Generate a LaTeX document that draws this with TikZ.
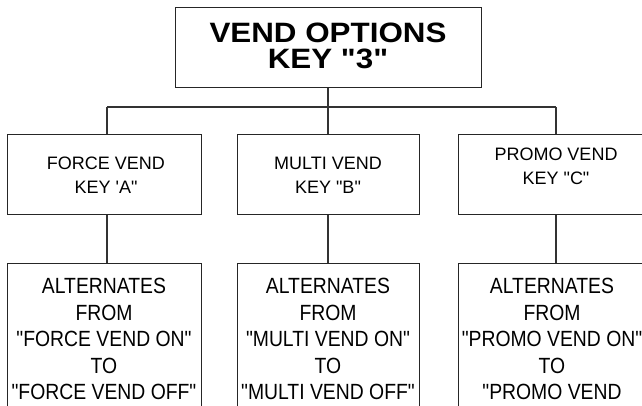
\documentclass[tikz,border=0pt]{standalone}
\usepackage{fontspec}
\newfontfamily\lsans{Liberation Sans}
\newfontfamily\lsanswide{Liberation Sans}[FakeStretch=1.12]
\newfontfamily\lsansnarrow{Liberation Sans}[FakeStretch=0.88]
\begin{document}
\begin{tikzpicture}[x=1pt,y=-1pt,
  box/.style={draw=black!85, line width=1pt, rectangle, inner sep=0pt},
  conn/.style={draw=black!80, line width=1.2pt},
  toptxt/.style={align=center, font=\lsanswide\fontsize{28}{26}\selectfont\bfseries, inner sep=0pt},
  midtxt/.style={align=center, font=\lsans\fontsize{18}{24}\selectfont, inner sep=0pt},
  bottxt/.style={align=center, font=\lsansnarrow\fontsize{22}{26.5}\selectfont, inner sep=0pt}]
\useasboundingbox (0,0) rectangle (642,406);
\clip (0,0) rectangle (642,406);
% boxes
\node[box, minimum width=306pt, minimum height=80pt] (top) at (328,48) {};
\node[box, minimum width=194pt, minimum height=79pt] (l1) at (104,174.5) {};
\node[box, minimum width=182pt, minimum height=79pt] (m1) at (328,174.5) {};
\node[box, minimum width=196pt, minimum height=79pt] (r1) at (556,174.5) {};
\node[box, minimum width=194pt, minimum height=170pt] (l2) at (104,348) {};
\node[box, minimum width=182pt, minimum height=170pt] (m2) at (328,348) {};
\node[box, minimum width=196pt, minimum height=170pt] (r2) at (556,348) {};
% texts
\node[toptxt] (ttop) at (328,46) {VEND OPTIONS\\KEY "3"};
\node[midtxt] (tl1) at (106,175) {FORCE VEND\\KEY 'A"};
\node[midtxt] (tm1) at (328,175) {MULTI VEND\\KEY "B"};
\node[midtxt] (tr1) at (556,166) {PROMO VEND\\KEY "C"};
\node[bottxt] (tl2) at (104,339) {ALTERNATES\\FROM\\"FORCE VEND ON"\\TO\\"FORCE VEND OFF"};
\node[bottxt] (tm2) at (328,339) {ALTERNATES\\FROM\\"MULTI VEND ON"\\TO\\"MULTI VEND OFF"};
\node[bottxt] (tr2) at (552,339) {ALTERNATES\\FROM\\"PROMO VEND ON"\\TO\\"PROMO VEND};
% connectors
\coordinate (hl) at (107,107);
\coordinate (hr) at (556,107);
\coordinate (hc) at (328,107);
\draw[conn] (top.south) -- (hc);
\draw[conn] (hl) -- (hr);
\draw[conn] (hl) -- (hl |- l1.north);
\draw[conn] (hc) -- (m1.north);
\draw[conn] (hr) -- (r1.north);
\draw[conn] (hl |- l1.south) -- (hl |- l2.north);
\draw[conn] (m1.south) -- (m2.north);
\draw[conn] (r1.south) -- (r2.north);
\end{tikzpicture}
\end{document}
